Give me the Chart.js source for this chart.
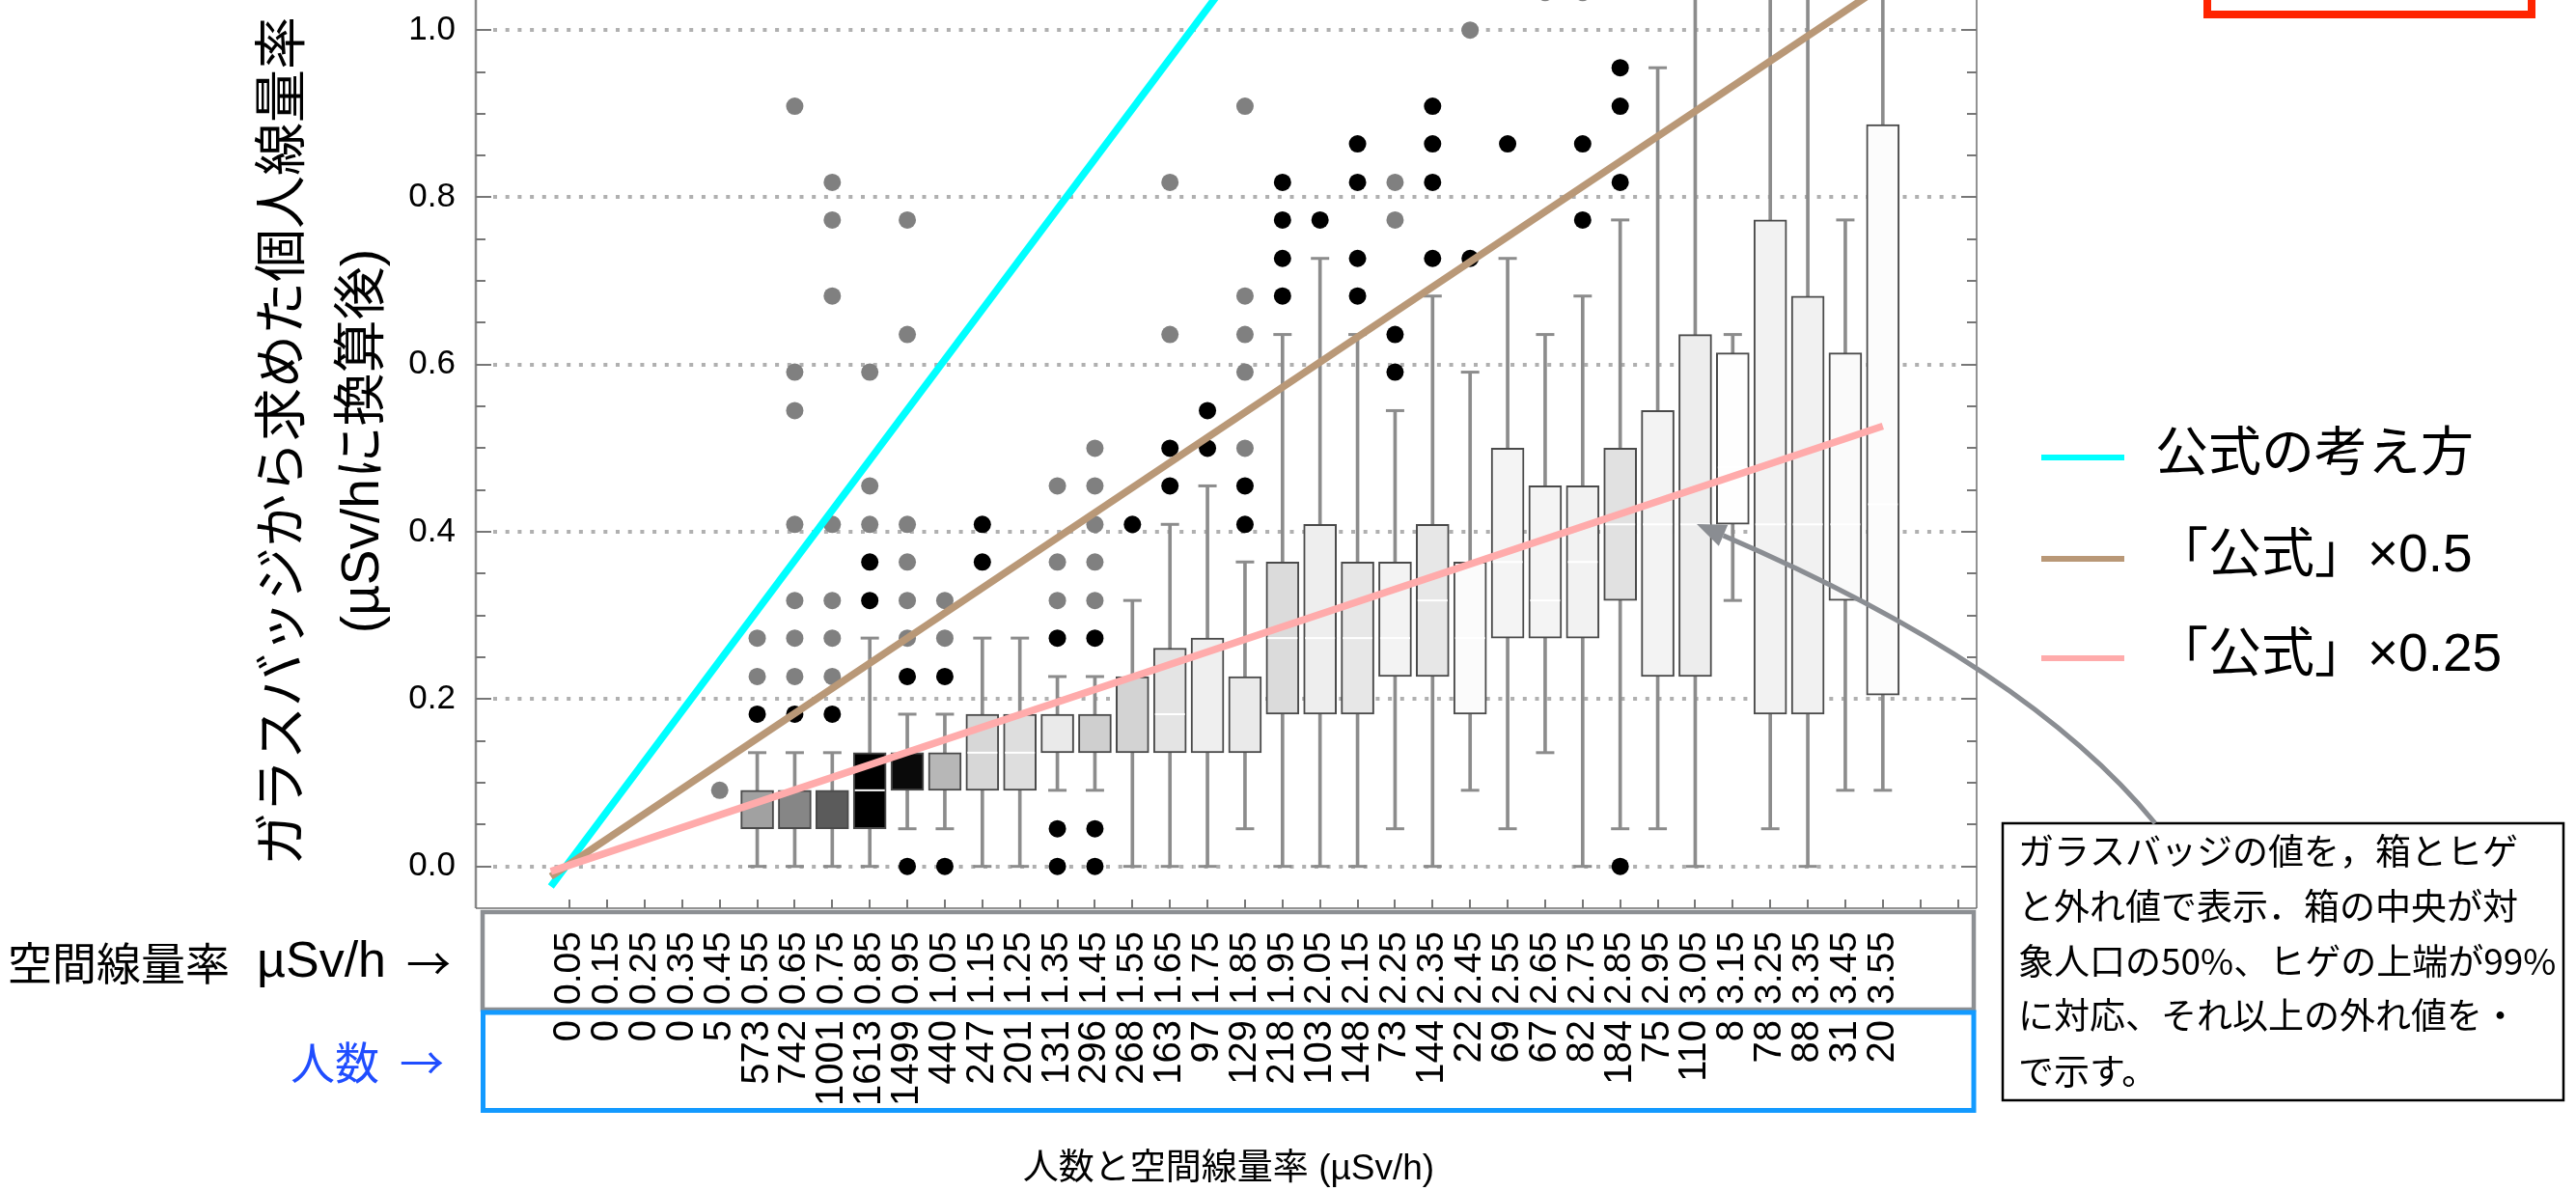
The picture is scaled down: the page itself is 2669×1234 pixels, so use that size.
<!DOCTYPE html>
<html>
<head>
<meta charset="utf-8">
<script src="https://cdn.jsdelivr.net/npm/chart.js@4.4.1/dist/chart.umd.min.js"></script>
<style>
  html, body { margin: 0; padding: 0; background: #fff; overflow: hidden; }
  #wrap { position: relative; width: 2669px; height: 1234px; }
  canvas { display: block; }
</style>
</head>
<body>
<div id="wrap"><canvas id="c" width="2669" height="1234"></canvas></div>
<script>
// Air dose rate classes (µSv/h) and number of people in each class
const airRates = ['0.05','0.15','0.25','0.35','0.45','0.55','0.65','0.75','0.85','0.95',
                  '1.05','1.15','1.25','1.35','1.45','1.55','1.65','1.75','1.85','1.95',
                  '2.05','2.15','2.25','2.35','2.45','2.55','2.65','2.75','2.85','2.95',
                  '3.05','3.15','3.25','3.35','3.45','3.55'];
const people = [0,0,0,0,5,573,742,1001,1613,1499,440,247,201,131,296,268,163,97,129,218,
                103,148,73,144,22,69,67,82,184,75,110,8,78,88,31,20];

// Glass badge dose (µSv/h): box quartiles, median, whisker ends
const N = null;
const boxLow  = [N,N,N,N,N, 0.045,0.045,0.045,0.045,0.091,0.091,0.091,0.091,0.136,0.136,0.136,0.136,0.136,0.136,0.182,
                 0.182,0.182,0.227,0.227,0.182,0.273,0.273,0.273,0.318,0.227,0.227,0.409,0.182,0.182,0.318,0.205];
const boxMid  = [N,N,N,N,N, N,N,N,0.091,N,N,0.136,0.136,N,N,N,0.182,N,N,0.273,
                 0.273,0.273,0.273,0.318,0.273,0.364,0.318,0.364,0.409,0.409,0.409,0.477,0.409,0.409,0.409,0.433];
const boxHigh = [N,N,N,N,N, 0.091,0.091,0.091,0.136,0.136,0.136,0.182,0.182,0.182,0.182,0.227,0.261,0.273,0.227,0.364,
                 0.409,0.364,0.364,0.409,0.364,0.5,0.455,0.455,0.5,0.545,0.636,0.614,0.773,0.682,0.614,0.887];
const whiskLow  = [N,N,N,N,N, 0,0,0,0,0.045,0.045,0,0,0.091,0.091,0,0,0,0.045,0,
                   0,0,0.045,0,0.091,0.045,0.136,0,0.045,0.045,0,0.318,0.045,0,0.091,0.091];
const whiskHigh = [N,N,N,N,N, 0.136,0.136,0.136,0.273,0.182,0.182,0.273,0.273,0.227,0.227,0.318,0.409,0.455,0.364,0.636,
                   0.727,0.636,0.545,0.682,0.591,0.727,0.636,0.682,0.773,0.955,1.1,0.636,1.1,1.1,0.773,1.1];

// Outliers beyond the whiskers (black = near, gray = far)
const outBlack = [[],[],[],[],[],[0.182],[0.182],[0.182],[0.318,0.364],[0,0.227],
                  [0,0.227],[0.364,0.409],[],[0,0.045,0.273],[0,0.045,0.273],[0.409],[0.455,0.5],[0.5,0.545],[0.409,0.455],[0.682,0.727,0.773,0.818],
                  [0.773],[0.682,0.727,0.818,0.864],[0.591,0.636],[0.727,0.818,0.864,0.909],[0.727],[0.864],[],[0.773,0.864],[0,0.818,0.909,0.955],[],
                  [],[],[],[],[],[]];
const outGray = [[],[],[],[],[0.091],[0.227,0.273],[0.227,0.273,0.318,0.409,0.545,0.591,0.909],[0.227,0.273,0.318,0.409,0.682,0.773,0.818],[0.409,0.455,0.591],[0.273,0.318,0.364,0.409,0.636,0.773],
                 [0.273,0.318],[],[],[0.318,0.364,0.455],[0.318,0.364,0.409,0.455,0.5],[],[0.636,0.818],[],[0.5,0.591,0.636,0.682,0.909],[],
                 [],[],[0.773,0.818],[],[1.0],[],[1.045],[1.045],[],[],
                 [],[],[],[],[],[]];

// Reference lines: official formula and its 0.5 / 0.25 multiples (end points)
const formulaLine = [[0, -0.024], [3.55, 2.106]];
const halfLine    = [[0, -0.012], [3.55, 1.053]];
const quarterLine = [[0, -0.006], [3.55, 0.5265]];

const yTicks = [0, 0.2, 0.4, 0.6, 0.8, 1.0];
const legendNames = ['公式の考え方', '「公式」×0.5', '「公式」×0.25'];
const lineColors = ['#00ffff', '#b99877', '#ffabab'];
const noteLines = ['ガラスバッジの値を，箱とヒゲ', 'と外れ値で表示．箱の中央が対', '象人口の50%、ヒゲの上端が99%',
                   'に対応、それ以上の外れ値を・', 'で示す。'];

const LAT = '"Liberation Sans", "Noto Sans CJK JP", sans-serif';
const CJK = '"Noto Sans CJK JP", sans-serif';

const xs = airRates.map(Number);
const shade = n => { const g = Math.round(255 * Math.max(0, 1 - n / 1560)); return `rgb(${g},${g},${g})`; };
const withBox = xs.map((_, i) => i).filter(i => boxLow[i] !== null);

const whiskerData = withBox.map(i => ({ x: xs[i], y: [whiskLow[i], whiskHigh[i]] }));
const capData = withBox.flatMap(i => [{ x: xs[i], y: whiskLow[i] }, { x: xs[i], y: whiskHigh[i] }]);
const boxData = withBox.map(i => ({ x: xs[i], y: [boxLow[i], boxHigh[i]] }));
const boxFill = withBox.map(i => shade(people[i]));
const medData = withBox.filter(i => boxMid[i] !== null).map(i => ({ x: xs[i], y: boxMid[i] }));
const blackPts = xs.flatMap((x, i) => outBlack[i].map(v => ({ x, y: v })));
const grayPts = xs.flatMap((x, i) => outGray[i].map(v => ({ x, y: v })));
const toPts = arr => arr.map(([x, y]) => ({ x, y }));

const decor = {
  id: 'decor',
  beforeDatasetsDraw(chart) {
    const { ctx, chartArea: a, scales: { y } } = chart;
    ctx.save();
    ctx.strokeStyle = '#b0b0b0';
    ctx.lineWidth = 4;
    ctx.setLineDash([4, 8.7]);
    yTicks.forEach(v => {
      const py = Math.round(y.getPixelForValue(v));
      ctx.beginPath(); ctx.moveTo(a.left + 18, py); ctx.lineTo(a.right - 14, py); ctx.stroke();
    });
    ctx.restore();
  },
  afterDraw(chart) {
    const { ctx, chartArea: a, scales: { x, y } } = chart;
    ctx.save();

    // plot frame
    ctx.lineCap = 'butt';
    ctx.strokeStyle = '#8a8a8a'; ctx.lineWidth = 2.5;
    ctx.beginPath(); ctx.moveTo(a.left, 0); ctx.lineTo(a.left, a.bottom); ctx.stroke();
    ctx.strokeStyle = '#6e6e6e'; ctx.lineWidth = 1.5;
    ctx.beginPath(); ctx.moveTo(a.right, 0); ctx.lineTo(a.right, a.bottom); ctx.stroke();
    ctx.beginPath(); ctx.moveTo(a.left, a.bottom); ctx.lineTo(a.right, a.bottom); ctx.stroke();

    // inward ticks
    ctx.strokeStyle = '#777'; ctx.lineWidth = 2;
    for (let k = 0; k <= 20; k++) {
      const py = Math.round(y.getPixelForValue(k * 0.05));
      const len = k % 4 === 0 ? 16 : 10;
      ctx.beginPath(); ctx.moveTo(a.left, py); ctx.lineTo(a.left + len, py); ctx.stroke();
      ctx.beginPath(); ctx.moveTo(a.right, py); ctx.lineTo(a.right - len, py); ctx.stroke();
    }
    for (let k = 0; k <= 37; k++) {
      const px = Math.round(x.getPixelForValue(0.05 + k * 0.1));
      ctx.beginPath(); ctx.moveTo(px, a.bottom); ctx.lineTo(px, a.bottom - 9); ctx.stroke();
    }

    // tables below the plot
    ctx.strokeStyle = '#8c8f93'; ctx.lineWidth = 4.5;
    ctx.strokeRect(500, 945, 1545, 101);
    ctx.strokeStyle = '#139aff'; ctx.lineWidth = 5;
    ctx.strokeRect(500.5, 1049, 1544.5, 101.5);

    ctx.fillStyle = '#000';
    ctx.textAlign = 'right'; ctx.textBaseline = 'middle';
    airRates.forEach((lab, i) => {
      const px = x.getPixelForValue(xs[i]);
      ctx.save(); ctx.translate(px, 965); ctx.rotate(-Math.PI / 2);
      ctx.font = '39px "Liberation Sans"'; ctx.fillText(lab, 0, 0);
      ctx.restore();
      ctx.save(); ctx.translate(px, 1057); ctx.rotate(-Math.PI / 2);
      ctx.font = '40px "Liberation Sans"'; ctx.fillText(String(people[i]), 0, 0);
      ctx.restore();
    });

    // row captions
    ctx.textAlign = 'left';
    ctx.font = '46px ' + CJK; ctx.fillText('空間線量率', 8, 998);
    ctx.font = '52px "Liberation Sans"'; ctx.fillText('µSv/h', 266, 998);
    ctx.font = '46px ' + CJK; ctx.fillText('→', 421, 998);
    ctx.fillStyle = '#1f4dff';
    ctx.font = '46px ' + CJK; ctx.fillText('人数', 301, 1101);
    ctx.fillText('→', 414, 1101);

    // axis titles
    ctx.fillStyle = '#000';
    ctx.textAlign = 'center';
    ctx.font = '37px ' + LAT;
    ctx.fillText('人数と空間線量率 (µSv/h)', 1273, 1212);
    ctx.save(); ctx.translate(289, 457); ctx.rotate(-Math.PI / 2);
    ctx.font = '55px ' + CJK; ctx.fillText('ガラスバッジから求めた個人線量率', 0, 0);
    ctx.restore();
    ctx.save(); ctx.translate(377, 457); ctx.rotate(-Math.PI / 2);
    ctx.font = '55px ' + LAT; ctx.fillText('(µSv/hに換算後)', 0, 0);
    ctx.restore();

    // legend
    const legY = [474, 579, 682];
    ctx.textAlign = 'left';
    legendNames.forEach((name, i) => {
      ctx.strokeStyle = lineColors[i]; ctx.lineWidth = 6;
      ctx.beginPath(); ctx.moveTo(2115, legY[i]); ctx.lineTo(2201, legY[i]); ctx.stroke();
      ctx.fillStyle = '#000'; ctx.font = '55px ' + LAT;
      ctx.fillText(name, 2233, legY[i] - 2);
    });

    // red frame at the top right
    ctx.strokeStyle = '#ff2400'; ctx.lineWidth = 8;
    ctx.strokeRect(2287, -60, 336, 75);

    // explanatory note
    ctx.fillStyle = '#fff'; ctx.fillRect(2075, 853, 581, 287);
    ctx.strokeStyle = '#000'; ctx.lineWidth = 2.5; ctx.strokeRect(2075, 853, 581, 287);
    ctx.fillStyle = '#000'; ctx.font = '37px ' + CJK;
    const noteY = [882, 939, 996, 1052, 1110];
    noteLines.forEach((t, i) => ctx.fillText(t, 2091, noteY[i]));

    // pointer from the note to a median
    const S = [2233, 853], C = [2100, 690], T = [1758, 543];
    const dx = T[0] - C[0], dy = T[1] - C[1], d = Math.hypot(dx, dy);
    const ux = dx / d, uy = dy / d;
    const B = [T[0] - ux * 30, T[1] - uy * 30];
    ctx.strokeStyle = '#8a8d92'; ctx.fillStyle = '#8a8d92'; ctx.lineWidth = 5;
    ctx.beginPath(); ctx.moveTo(S[0], S[1]); ctx.quadraticCurveTo(C[0], C[1], B[0], B[1]); ctx.stroke();
    ctx.beginPath();
    ctx.moveTo(T[0], T[1]);
    ctx.lineTo(B[0] - uy * 12, B[1] + ux * 12);
    ctx.lineTo(B[0] + uy * 12, B[1] - ux * 12);
    ctx.closePath(); ctx.fill();

    ctx.restore();
  }
};

new Chart(document.getElementById('c'), {
  type: 'bar',
  data: {
    datasets: [
      { type: 'line', data: toPts(quarterLine), borderColor: lineColors[2], borderWidth: 7.5, pointRadius: 0, fill: false, order: 0 },
      { type: 'line', data: toPts(halfLine), borderColor: lineColors[1], borderWidth: 7.5, pointRadius: 0, fill: false, order: 1 },
      { type: 'line', data: toPts(formulaLine), borderColor: lineColors[0], borderWidth: 7.5, pointRadius: 0, fill: false, order: 2 },
      { type: 'scatter', data: blackPts, pointRadius: 9, pointBackgroundColor: '#000', pointBorderWidth: 0, order: 3 },
      { type: 'scatter', data: grayPts, pointRadius: 9, pointBackgroundColor: '#808080', pointBorderWidth: 0, order: 4 },
      { type: 'scatter', data: medData, pointStyle: 'line', pointRadius: 15.5, pointBorderColor: '#fff', pointBorderWidth: 2, order: 5 },
      { type: 'bar', data: boxData, backgroundColor: boxFill, borderColor: '#4a4a4a', borderWidth: 2,
        borderSkipped: false, barThickness: 34, grouped: false, order: 6 },
      { type: 'scatter', data: capData, pointStyle: 'line', pointRadius: 9.5, pointBorderColor: '#8c8c8c', pointBorderWidth: 3, order: 7 },
      { type: 'bar', data: whiskerData, backgroundColor: '#8c8c8c', borderWidth: 0, barThickness: 3, grouped: false, order: 8 }
    ]
  },
  options: {
    responsive: false,
    animation: false,
    devicePixelRatio: 1,
    events: [],
    layout: { autoPadding: false, padding: { left: 0, right: 621, top: 0, bottom: 293 } },
    plugins: { legend: { display: false }, tooltip: { enabled: false } },
    scales: {
      x: { type: 'linear', min: -0.2, max: 3.8, offset: false, display: false },
      y: {
        type: 'linear', min: -0.05, max: 1.036, beginAtZero: false,
        afterBuildTicks: s => { s.ticks = yTicks.map(v => ({ value: v })); },
        afterFit: s => { s.width = 493; s.paddingTop = 0; s.paddingBottom = 0; },
        ticks: { callback: v => Number(v).toFixed(1), color: '#000', padding: 13,
                 font: { family: 'Liberation Sans', size: 35 } },
        grid: { display: false },
        border: { display: false }
      }
    }
  },
  plugins: [decor]
});
</script>
</body>
</html>
